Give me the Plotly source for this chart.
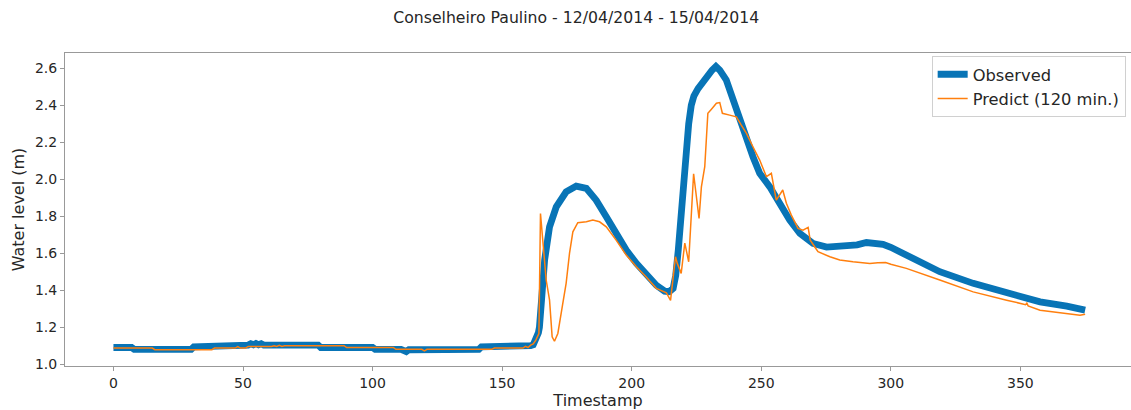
import plotly.graph_objects as go

# Observed series (timestamp, water level in m)
obs_x = [0, 7, 8, 30, 31, 44, 45, 52, 53, 54, 55, 56, 57, 58, 79, 80, 100, 101, 111, 112, 113, 114,
         141, 142, 155, 156, 161, 162, 163, 164, 164.4, 165.4, 166.4, 168.3, 170.9, 174.7, 178.6,
         182.5, 186.3, 190.2, 194, 197.9, 201.8, 205.6, 209.5, 212.7, 214.5, 216, 217, 218, 219,
         220, 221, 222, 223, 224, 225.6, 228.8, 231, 232.5, 234, 236.5, 239.1, 241.7, 244.3, 246.8,
         249.4, 253.3, 257.1, 261, 264.9, 267.4, 270, 275.2, 283, 287, 290.6, 294, 297, 300, 303.5,
         311.2, 318.9, 331.8, 344.7, 357.6, 367.9, 375]
obs_y = [1.09, 1.09, 1.08, 1.08, 1.094, 1.094, 1.103, 1.103, 1.11, 1.105, 1.112, 1.105, 1.11, 1.103,
         1.103, 1.09, 1.09, 1.08, 1.08, 1.072, 1.068, 1.078, 1.08, 1.094, 1.094, 1.10, 1.10, 1.105,
         1.13, 1.17, 1.20, 1.38, 1.563, 1.743, 1.851, 1.932, 1.963, 1.951, 1.887, 1.797, 1.707, 1.617,
         1.545, 1.482, 1.427, 1.395, 1.392, 1.41, 1.48, 1.62, 1.82, 2.0, 2.15, 2.3, 2.40, 2.45, 2.49,
         2.555, 2.59, 2.61, 2.59, 2.537, 2.429, 2.32, 2.212, 2.122, 2.032, 1.959, 1.87, 1.779, 1.707,
         1.68, 1.653, 1.633, 1.635, 1.645, 1.658, 1.655, 1.648, 1.632, 1.608, 1.554, 1.50, 1.437,
         1.383, 1.337, 1.314, 1.292]

# Predicted series (120 min ahead)
pred_x = [0, 15, 16, 38, 39, 47, 48, 49, 51, 52, 61, 62, 63, 64, 65, 66, 89, 90, 108, 109, 119, 120,
          121, 146, 147, 158, 159, 160, 161, 162, 163, 164.2, 164.8, 165.6, 167, 168.3, 169.3, 170.2,
          171.5, 173.4, 174.7, 176, 177.3, 179.2, 182.5, 185, 187.6, 190.2, 194, 197.9, 201.8, 205.6,
          209.5, 213.4, 215, 216.9, 217.6, 219.1, 220.5, 222, 223.9, 226, 226.9, 228.2, 229.4, 230.7,
          232.7, 234, 235, 237.8, 240.4, 242.3, 244.3, 246.8, 249.4, 252, 253.9, 255.8, 258.3, 259.7,
          261.6, 264.2, 266.1, 268.1, 268.9, 270.6, 271.9, 276.5, 280.3, 285.4, 291.9, 295, 298, 300,
          306, 318.9, 331.8, 344.7, 352, 352.5, 353, 357.6, 365, 370.4, 373, 375]
pred_y = [1.087, 1.087, 1.078, 1.078, 1.087, 1.087, 1.095, 1.087, 1.087, 1.096, 1.096, 1.10, 1.096,
          1.102, 1.096, 1.10, 1.10, 1.09, 1.09, 1.08, 1.08, 1.072, 1.08, 1.08, 1.087, 1.087, 1.096,
          1.09, 1.103, 1.11, 1.13, 1.166, 1.815, 1.671, 1.455, 1.346, 1.148, 1.124, 1.166, 1.328,
          1.437, 1.599, 1.716, 1.765, 1.77, 1.779, 1.77, 1.743, 1.671, 1.59, 1.527, 1.472, 1.41,
          1.386, 1.345, 1.581, 1.545, 1.491, 1.655, 1.554, 2.03, 1.788, 1.959, 2.068, 2.357, 2.378,
          2.411, 2.415, 2.357, 2.347, 2.338, 2.293, 2.248, 2.176, 2.104, 2.014, 2.032, 1.887, 1.942,
          1.87, 1.806, 1.734, 1.725, 1.74, 1.671, 1.635, 1.608, 1.581, 1.563, 1.554, 1.545, 1.548,
          1.55, 1.54, 1.518, 1.455, 1.391, 1.346, 1.322, 1.33, 1.315, 1.292, 1.278, 1.269, 1.265, 1.27]

x_ticks = [0, 50, 100, 150, 200, 250, 300, 350]
y_ticks = [1.0, 1.2, 1.4, 1.6, 1.8, 2.0, 2.2, 2.4, 2.6]

FONT = "DejaVu Sans"
SPINE = "#999999"

fig = go.Figure()
fig.add_trace(go.Scatter(x=obs_x, y=obs_y, mode="lines", name="Observed",
                         line=dict(color="#0874b6", width=6.8)))
fig.add_trace(go.Scatter(x=pred_x, y=pred_y, mode="lines", name="Predict (120 min.)",
                         line=dict(color="#ff7f0e", width=1.5)))

fig.update_layout(
    width=1131, height=410,
    margin=dict(l=65, r=0, t=53, b=44),
    paper_bgcolor="white", plot_bgcolor="white",
    font=dict(family=FONT, color="#262626", size=14),
    title=dict(text="Conselheiro Paulino - 12/04/2014 - 15/04/2014", x=0.5095, xref="container",
               y=1 - 18 / 410, yanchor="middle", xanchor="center",
               font=dict(family=FONT, size=15.7, color="#262626")),
    legend=dict(x=0.995, y=0.99, xanchor="right", yanchor="top",
                bgcolor="rgba(255,255,255,0.9)", bordercolor="#d0d0d0", borderwidth=1,
                font=dict(family=FONT, size=16.3, color="#262626"), tracegroupgap=2),
    showlegend=True,
)
fig.update_xaxes(range=[-18.7, 392.7], tickvals=x_ticks, ticks="outside", ticklen=4,
                 tickcolor=SPINE, showline=True, linecolor=SPINE, linewidth=1, mirror=True,
                 showgrid=False, zeroline=False,
                 tickfont=dict(family=FONT, size=14, color="#262626"),
                 title=dict(text="Timestamp", standoff=3, font=dict(family=FONT, size=16)))
fig.update_yaxes(range=[0.99, 2.683], tickvals=y_ticks, tickformat=".1f", ticks="outside",
                 ticklen=4, tickcolor=SPINE, showline=True, linecolor=SPINE, linewidth=1,
                 mirror=True, showgrid=False, zeroline=False,
                 tickfont=dict(family=FONT, size=14, color="#262626"),
                 title=dict(text="Water level (m)", standoff=6, font=dict(family=FONT, size=16)))

fig.write_html("out.html")
